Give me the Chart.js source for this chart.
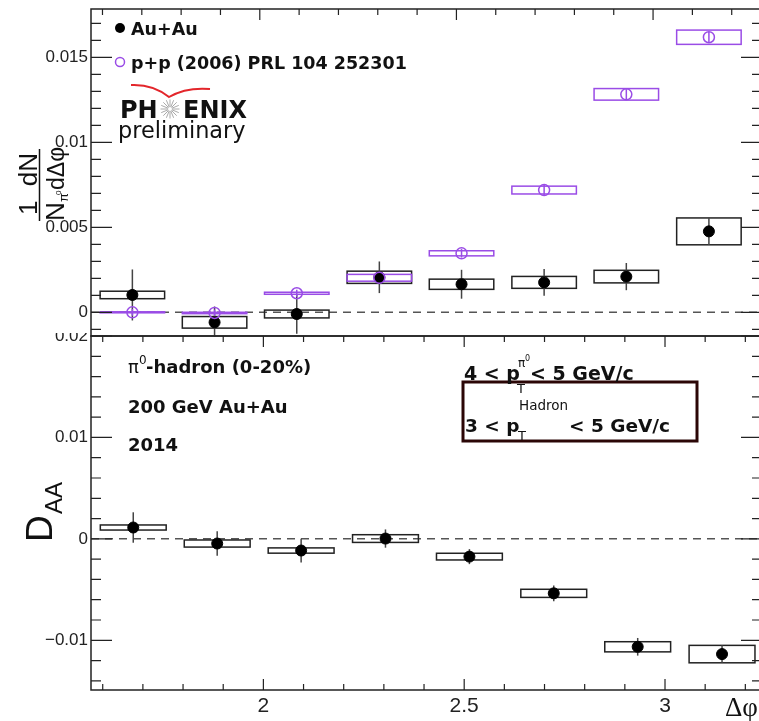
<!DOCTYPE html>
<html>
<head>
<meta charset="utf-8">
<title>pi0-hadron D_AA</title>
<script src="https://cdn.jsdelivr.net/npm/chart.js@4.4.1/dist/chart.umd.min.js"></script>
<style>
  html, body { margin: 0; padding: 0; background: #fff; overflow: hidden; }
  #wrap { position: relative; width: 763px; height: 721px; overflow: hidden; }
  #topPanel { position: absolute; left: 0; top: 0; z-index: 2; }
  #bottomPanel { position: absolute; left: 0; top: 326px; z-index: 1; }
</style>
</head>
<body>
<div id="wrap">
  <canvas id="topPanel" width="763" height="337"></canvas>
  <canvas id="bottomPanel" width="763" height="395"></canvas>
</div>
<script>
// bin centres (delta phi, rad) and half width of the systematic boxes
const binX = [1.676, 1.885, 2.094, 2.304, 2.513, 2.723, 2.932, 3.142];
const binHalfWidth = 0.082;

// top panel: per-trigger yields
const auauYield = [0.00102, -0.00059, -0.00010, 0.00206, 0.00165, 0.00176, 0.00210, 0.00476];
const auauStat  = [0.00150, 0.00093, 0.00116, 0.00093, 0.00085, 0.00078, 0.00080, 0.00080];
const auauSys   = [0.00022, 0.00034, 0.00023, 0.00036, 0.00030, 0.00035, 0.00037, 0.00079];

const ppYield = [0.00000, -0.00004, 0.00112, 0.00203, 0.00347, 0.00719, 0.01282, 0.01618];
const ppStat  = [0.00020, 0.00020, 0.00020, 0.00020, 0.00025, 0.00030, 0.00030, 0.00030];
const ppSys   = [0.00003, 0.00004, 0.00006, 0.00020, 0.00015, 0.00023, 0.00034, 0.00042];

// bottom panel: D_AA
const dAA     = [0.00112, -0.00046, -0.00115, 0.00003, -0.00175, -0.00537, -0.01064, -0.01136];
const dAAStat = [0.00150, 0.00120, 0.00117, 0.00090, 0.00074, 0.00077, 0.00087, 0.00086];
const dAASys  = [0.00025, 0.00035, 0.00026, 0.00038, 0.00033, 0.00040, 0.00050, 0.00086];

// axis labels
const topYTicks = [0, 0.005, 0.01, 0.015];
const bottomYTicks = [-0.01, 0, 0.01, 0.02];
const xTicks = [2, 2.5, 3];

const ppColor = '#9a4ce6';
const inkColor = '#222';

function fmtTick(v) {
  if (Math.abs(v) < 1e-12) return '0';
  return (v < 0 ? '\u2212' : '') + String(+Math.abs(v).toFixed(4));
}

// no extra room for half labels at the ends of an axis
function noEndPadding(s) {
  s.paddingTop = 0; s.paddingBottom = 0; s.paddingLeft = 0; s.paddingRight = 0;
}

function drawFrame(chart, cfg) {
  const { ctx, chartArea: a, scales: { x, y } } = chart;
  ctx.save();
  ctx.strokeStyle = inkColor;
  ctx.lineWidth = 1.2;
  ctx.beginPath();
  const kx0 = Math.ceil(x.min / 0.1 - 1e-6), kx1 = Math.floor(x.max / 0.1 + 1e-6);
  for (let k = kx0; k <= kx1; k++) {
    const px = x.getPixelForValue(k * 0.1);
    const len = k % 5 === 0 ? 11 : 6;
    if (cfg.ticksTop) { ctx.moveTo(px, a.top); ctx.lineTo(px, a.top + len); }
    if (cfg.ticksBottom) { ctx.moveTo(px, a.bottom); ctx.lineTo(px, a.bottom - len); }
  }
  const ky0 = Math.ceil(y.min / cfg.yMinor - 1e-6), ky1 = Math.floor(y.max / cfg.yMinor + 1e-6);
  for (let k = ky0; k <= ky1; k++) {
    const py = y.getPixelForValue(k * cfg.yMinor);
    const len = k % 5 === 0 ? 21 : 10;
    ctx.moveTo(a.left, py); ctx.lineTo(a.left + len, py);
    ctx.moveTo(a.right, py); ctx.lineTo(a.right - len, py);
  }
  ctx.stroke();
  ctx.lineWidth = 1.5;
  ctx.strokeRect(a.left, a.top, a.right - a.left, a.bottom - a.top);
  ctx.restore();
}

function drawErrors(chart, series) {
  const { ctx, chartArea: a, scales: { x, y } } = chart;
  ctx.save();
  // dashed zero line
  const y0 = y.getPixelForValue(0);
  ctx.strokeStyle = '#555';
  ctx.lineWidth = 1.5;
  ctx.setLineDash([8, 6]);
  ctx.beginPath(); ctx.moveTo(a.left, y0); ctx.lineTo(a.right, y0); ctx.stroke();
  ctx.setLineDash([]);
  series.forEach(s => {
    binX.forEach((bx, i) => {
      const l = x.getPixelForValue(bx - binHalfWidth);
      const r = x.getPixelForValue(bx + binHalfWidth);
      const t = y.getPixelForValue(s.y[i] + s.sys[i]);
      const b = y.getPixelForValue(s.y[i] - s.sys[i]);
      ctx.strokeStyle = s.boxColor;
      ctx.lineWidth = 1.5;
      ctx.strokeRect(l, t, r - l, b - t);
      const cx = x.getPixelForValue(bx);
      ctx.strokeStyle = s.barColor;
      ctx.beginPath();
      ctx.moveTo(cx, y.getPixelForValue(s.y[i] + s.stat[i]));
      ctx.lineTo(cx, y.getPixelForValue(s.y[i] - s.stat[i]));
      ctx.stroke();
    });
  });
  ctx.restore();
}

function drawTopNotes(ctx) {
  ctx.save();
  ctx.textAlign = 'left';
  ctx.textBaseline = 'alphabetic';
  // legend
  ctx.fillStyle = '#000';
  ctx.beginPath(); ctx.arc(120, 28, 5, 0, 2 * Math.PI); ctx.fill();
  ctx.strokeStyle = ppColor; ctx.lineWidth = 1.5;
  ctx.beginPath(); ctx.arc(120, 62, 4.5, 0, 2 * Math.PI); ctx.stroke();
  ctx.fillStyle = '#111';
  ctx.font = 'bold 17.5px "DejaVu Sans"';
  ctx.fillText('Au+Au', 131, 35);
  ctx.fillText('p+p (2006) PRL 104 252301', 131, 69);

  // PHENIX preliminary logo
  ctx.strokeStyle = '#e3262b'; ctx.lineWidth = 2;
  ctx.beginPath();
  ctx.moveTo(131, 85);
  ctx.quadraticCurveTo(153, 84, 169, 97);
  ctx.quadraticCurveTo(186, 87, 210, 89);
  ctx.stroke();
  ctx.font = 'bold 24px "DejaVu Sans"';
  ctx.fillText('PH', 120, 118);
  ctx.fillText('ENIX', 183, 118);
  ctx.strokeStyle = '#aaa'; ctx.lineWidth = 1;
  ctx.beginPath();
  for (let k = 0; k < 16; k++) {
    const t = k * Math.PI / 8;
    ctx.moveTo(170 + 2 * Math.cos(t), 109 + 2 * Math.sin(t));
    ctx.lineTo(170 + 9.5 * Math.cos(t), 109 + 9.5 * Math.sin(t));
  }
  ctx.stroke();
  ctx.font = '22.4px "DejaVu Sans"';
  ctx.fillText('preliminary', 118, 138);

  // y title: 1/N dN/d(dphi), rotated
  ctx.translate(0, 184);
  ctx.rotate(-Math.PI / 2);
  ctx.font = '26px "Liberation Sans"';
  ctx.textAlign = 'center';
  ctx.fillText('1  dN', 0, 37);
  ctx.strokeStyle = '#111'; ctx.lineWidth = 1.5;
  ctx.beginPath(); ctx.moveTo(-37, 39.5); ctx.lineTo(35, 39.5); ctx.stroke();
  ctx.textAlign = 'left';
  ctx.fillText('N', -37, 64);
  ctx.font = '13px "Liberation Sans"';
  ctx.fillText('\u03c0', -18, 68);
  ctx.font = '8px "Liberation Sans"';
  ctx.fillText('0', -11, 61);
  ctx.font = '23px "Liberation Sans"';
  ctx.fillText('d\u0394\u03c6', -6, 64);
  ctx.restore();
}

function drawBottomNotes(ctx, off) {
  ctx.save();
  ctx.textAlign = 'left';
  ctx.textBaseline = 'alphabetic';
  ctx.fillStyle = '#111';
  ctx.font = '18px "DejaVu Sans"';
  ctx.fillText('\u03c0', 128, 373 - off);
  ctx.font = '12px "DejaVu Sans"';
  ctx.fillText('0', 139, 364 - off);
  ctx.font = 'bold 18px "DejaVu Sans"';
  ctx.fillText('-hadron (0-20%)', 146, 373 - off);
  ctx.fillText('200 GeV Au+Au', 128, 413 - off);
  ctx.fillText('2014', 128, 451 - off);

  // kinematic selection box
  ctx.strokeStyle = '#2b0606'; ctx.lineWidth = 3;
  ctx.strokeRect(463, 382 - off, 234, 59);
  ctx.font = 'bold 19px "DejaVu Sans"';
  ctx.fillText('4 < p', 464, 380 - off);
  ctx.fillText('< 5 GeV/c', 530, 380 - off);
  ctx.font = 'bold 18.5px "DejaVu Sans"';
  ctx.fillText('3 < p', 465, 432 - off);
  ctx.fillText('< 5 GeV/c', 569, 432 - off);
  ctx.font = '12px "DejaVu Sans"';
  ctx.fillText('\u03c0', 518, 367 - off);
  ctx.font = '8px "DejaVu Sans"';
  ctx.fillText('0', 525, 361 - off);
  ctx.font = '13px "DejaVu Sans"';
  ctx.fillText('T', 517, 393 - off);
  ctx.fillText('T', 518, 440 - off);
  ctx.font = '13.5px "DejaVu Sans"';
  ctx.fillText('Hadron', 519, 410 - off);

  // x title
  ctx.font = '27px "Liberation Serif"';
  ctx.fillText('\u0394\u03c6', 725, 716 - off);

  // y title D_AA, rotated
  ctx.translate(0, 511 - off);
  ctx.rotate(-Math.PI / 2);
  ctx.font = '37px "Liberation Sans"';
  ctx.fillText('D', -31, 52);
  ctx.font = '24px "Liberation Sans"';
  ctx.fillText('AA', -3, 62);
  ctx.restore();
}

function yAxis(min, max, ticks) {
  return {
    type: 'linear', min, max,
    afterBuildTicks: s => { s.ticks = ticks.map(v => ({ value: v })); },
    afterFit: s => { s.width = 91; noEndPadding(s); },
    grid: { display: false, drawTicks: false },
    border: { display: false },
    ticks: {
      padding: 3, color: inkColor,
      font: { family: 'Liberation Sans', size: 17 },
      callback: v => fmtTick(v)
    }
  };
}

const baseOptions = {
  responsive: false,
  animation: false,
  events: [],
  plugins: { legend: { display: false }, tooltip: { enabled: false } }
};

// ---- top panel ----
new Chart(document.getElementById('topPanel'), {
  type: 'scatter',
  data: {
    datasets: [
      { label: 'Au+Au', data: binX.map((x, i) => ({ x, y: auauYield[i] })), order: 2,
        pointRadius: 5.5, pointBackgroundColor: '#000', pointBorderColor: '#000' },
      { label: 'p+p', data: binX.map((x, i) => ({ x, y: ppYield[i] })), order: 1,
        pointRadius: 5.5, pointBackgroundColor: 'rgba(0,0,0,0)', pointBorderColor: ppColor, pointBorderWidth: 1.5 }
    ]
  },
  options: {
    ...baseOptions,
    layout: { autoPadding: false, padding: { top: 9, right: 1, bottom: 1, left: 0 } },
    scales: {
      x: { type: 'linear', min: 1.5708, max: 3.277, display: false, afterFit: noEndPadding },
      y: yAxis(-0.001394, 0.01784, topYTicks)
    }
  },
  plugins: [{
    id: 'topPanel',
    beforeDraw(chart) {
      // hides the upper half of the lower panel's top label
      const c = chart.ctx;
      c.save(); c.fillStyle = '#fff'; c.fillRect(0, 0, chart.width, 333); c.restore();
    },
    beforeDatasetsDraw(chart) {
      drawErrors(chart, [
        { y: auauYield, stat: auauStat, sys: auauSys, boxColor: '#222', barColor: '#444' },
        { y: ppYield, stat: ppStat, sys: ppSys, boxColor: ppColor, barColor: ppColor }
      ]);
    },
    afterDraw(chart) {
      drawFrame(chart, { ticksTop: true, ticksBottom: false, yMinor: 0.001 });
      drawTopNotes(chart.ctx);
    }
  }]
});

// ---- bottom panel ----
new Chart(document.getElementById('bottomPanel'), {
  type: 'scatter',
  data: {
    datasets: [
      { label: 'D_AA', data: binX.map((x, i) => ({ x, y: dAA[i] })),
        pointRadius: 5.5, pointBackgroundColor: '#000', pointBorderColor: '#000' }
    ]
  },
  options: {
    ...baseOptions,
    layout: { autoPadding: false, padding: { top: 10, right: 1, bottom: 0, left: 0 } },
    scales: {
      x: {
        type: 'linear', min: 1.5708, max: 3.2415,
        afterBuildTicks: s => { s.ticks = xTicks.map(v => ({ value: v })); },
        afterFit: s => { s.height = 31; noEndPadding(s); },
        grid: { display: false, drawTicks: false },
        border: { display: false },
        ticks: {
          padding: 4, color: inkColor, maxRotation: 0,
          font: { family: 'Liberation Sans', size: 21 },
          callback: v => String(v)
        }
      },
      y: yAxis(-0.0149, 0.02, bottomYTicks)
    }
  },
  plugins: [{
    id: 'bottomPanel',
    beforeDatasetsDraw(chart) {
      drawErrors(chart, [{ y: dAA, stat: dAAStat, sys: dAASys, boxColor: '#222', barColor: '#444' }]);
    },
    afterDraw(chart) {
      drawFrame(chart, { ticksTop: true, ticksBottom: true, yMinor: 0.002 });
      drawBottomNotes(chart.ctx, 326);
    }
  }]
});
</script>
</body>
</html>
